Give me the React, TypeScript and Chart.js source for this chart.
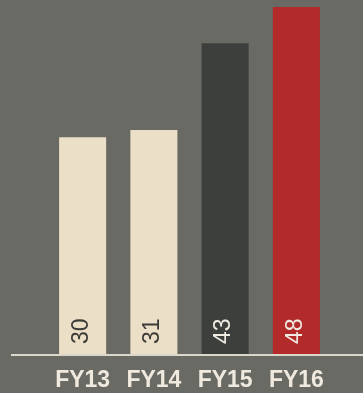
import React, { useEffect, useRef } from "react";
import { Chart, registerables } from "chart.js";

Chart.register(...registerables);

const categories = ["FY13", "FY14", "FY15", "FY16"];
const values = [30, 31, 43, 48];
const barColors = ["#ebdfc7", "#ebdfc7", "#3d3f3d", "#b22a29"];
const labelColors = ["#3c3c39", "#3c3c39", "#efebe2", "#efebe2"];

const BG = "#6a6a65";

const baselinePlugin = {
  id: "baseline",
  afterDatasetsDraw(chart: any) {
    const { ctx, chartArea, scales } = chart;
    const y = scales.y.getPixelForValue(0);
    ctx.save();
    ctx.strokeStyle = "#dcd7cb";
    ctx.lineWidth = 2;
    ctx.beginPath();
    ctx.moveTo(chartArea.left - 36, y + 1);
    ctx.lineTo(chart.width, y + 1);
    ctx.stroke();
    ctx.restore();
  },
};

const valueLabelPlugin = {
  id: "valueLabels",
  afterDatasetsDraw(chart: any) {
    const { ctx } = chart;
    const meta = chart.getDatasetMeta(0);
    ctx.save();
    ctx.font = "23px 'Liberation Sans', Arial, sans-serif";
    meta.data.forEach((bar: any, i: number) => {
      const { x, base } = bar.getProps(["x", "base"], true);
      ctx.save();
      ctx.translate(x - 1, base - 10);
      ctx.rotate(-Math.PI / 2);
      ctx.textAlign = "left";
      ctx.textBaseline = "middle";
      ctx.fillStyle = labelColors[i];
      ctx.fillText(String(values[i]), 0, 0);
      ctx.restore();
    });
    ctx.restore();
  },
};

export default function App() {
  const ref = useRef<HTMLCanvasElement>(null);
  useEffect(() => {
    document.body.style.margin = "0";
    document.body.style.background = BG;
    const chart = new Chart(ref.current!, {
      type: "bar",
      data: {
        labels: categories,
        datasets: [
          {
            data: values,
            backgroundColor: barColors,
            borderWidth: 0,
            barPercentage: 0.66,
            categoryPercentage: 1,
          },
        ],
      },
      options: {
        animation: false,
        responsive: false,
        maintainAspectRatio: false,
        layout: { padding: { top: 7, left: 47, right: 31, bottom: 0 } },
        plugins: { legend: { display: false }, tooltip: { enabled: false } },
        scales: {
          x: {
            grid: { display: false, drawTicks: false },
            border: { display: false },
            afterFit(scale: any) {
              scale.height = 39;
            },
            ticks: {
              color: "#efe9de",
              padding: 13,
              font: { size: 23, weight: "bold", family: "'Liberation Sans', Arial, sans-serif" },
            },
          },
          y: {
            display: false,
            min: 0,
            max: 48,
          },
        },
      },
      plugins: [baselinePlugin, valueLabelPlugin],
    });
    return () => chart.destroy();
  }, []);
  return (
    <div style={{ width: 363, height: 393, background: BG }}>
      <canvas ref={ref} width={363} height={393} style={{ display: "block" }} />
    </div>
  );
}
